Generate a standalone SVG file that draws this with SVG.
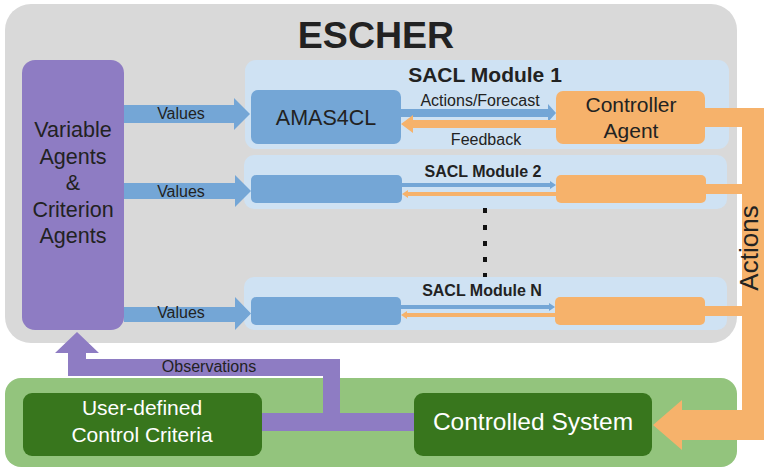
<svg xmlns="http://www.w3.org/2000/svg" width="764" height="469" viewBox="0 0 764 469">
<style>
text{font-family:"Liberation Sans",Arial,sans-serif;fill:#222;text-anchor:middle}
.b{font-weight:bold}
.w{fill:#fff}
.gray{fill:#d9d9d9}
.lb{fill:#cfe2f3}
.blue{fill:#74a6d6}
.or{fill:#f6b26b}
.pu{fill:#8e7cc3}
.lg{fill:#93c47d}
.dg{fill:#38761d}
</style>
<g id="escher">
<rect class="gray" x="5" y="4" width="732" height="339" rx="26"/>
<text class="b" x="376" y="48" font-size="37.5">ESCHER</text>
</g>
<g id="variable-agents">
<rect class="pu" x="22" y="60" width="102" height="270" rx="13"/>
<text x="73" y="137" font-size="21.5">Variable</text>
<text x="73" y="163.5" font-size="21.5">Agents</text>
<text x="73" y="190" font-size="21.5">&amp;</text>
<text x="73" y="216.5" font-size="21.5">Criterion</text>
<text x="73" y="243" font-size="21.5">Agents</text>
</g>
<g id="module1">
<rect class="lb" x="245" y="60" width="484" height="89" rx="11"/>
<text class="b" x="485" y="81.5" font-size="21">SACL Module 1</text>
</g>
<g id="amas4cl-1">
<rect class="blue" x="251" y="90" width="150" height="54" rx="7"/>
<text x="326" y="125" font-size="21.5">AMAS4CL</text>
</g>
<g id="controller-1">
<rect class="or" x="556" y="91" width="149" height="53" rx="7"/>
<text x="631" y="112" font-size="21">Controller</text>
<text x="631" y="138" font-size="21">Agent</text>
</g>
<g id="module2">
<rect class="lb" x="244" y="155" width="483" height="54" rx="10"/>
<text class="b" x="483" y="177" font-size="16">SACL Module 2</text>
</g>
<g id="amas4cl-2"><rect class="blue" x="251" y="175" width="151" height="28" rx="5"/></g>
<g id="controller-2"><rect class="or" x="556" y="175" width="150" height="28" rx="5"/></g>
<g id="dots">
<rect x="483" y="208" width="4" height="5" fill="#111"/>
<rect x="483" y="225" width="4" height="5" fill="#111"/>
<rect x="483" y="241" width="4" height="5" fill="#111"/>
<rect x="483" y="257" width="4" height="5" fill="#111"/>
<rect x="483" y="273" width="4" height="5" fill="#111"/>
</g>
<g id="moduleN">
<rect class="lb" x="244" y="277" width="483" height="53" rx="10"/>
<text class="b" x="482" y="296" font-size="16">SACL Module N</text>
</g>
<g id="amas4cl-N"><rect class="blue" x="251" y="297" width="150" height="28" rx="5"/></g>
<g id="controller-N"><rect class="or" x="555" y="297" width="150" height="28" rx="5"/></g>
<g id="bottom">
<rect class="lg" x="5" y="378" width="732" height="89" rx="16"/>
</g>
<g id="criteria">
<rect class="dg" x="23" y="393" width="239" height="63" rx="9"/>
<text class="w" x="142" y="415" font-size="21">User-defined</text>
<text class="w" x="142" y="441.5" font-size="21">Control Criteria</text>
</g>
<g id="controlled-system">
<rect class="dg" x="414" y="393" width="238" height="63" rx="9"/>
<text class="w" x="533" y="430" font-size="24.5">Controlled System</text>
</g>
<g id="connectors">
<polygon class="blue" points="124,105 234,105 234,98 250,114 234,130 234,123 124,123"/>
<polygon class="blue" points="124,183 235,183 235,175 251,191 235,207 235,199 124,199"/>
<polygon class="blue" points="124,307 235,307 235,297 251,313.5 235,330 235,322 124,322"/>
<text x="181" y="119" font-size="16">Values</text>
<text x="181" y="197" font-size="16">Values</text>
<text x="181" y="318" font-size="16">Values</text>
<polygon class="blue" points="401,109 548,109 548,104 556,113 548,122 548,117 401,117"/>
<polygon class="or" points="556,120 413,120 413,115 401,124 413,133 413,128 556,128"/>
<text x="480" y="106" font-size="16">Actions/Forecast</text>
<text x="486" y="145" font-size="16">Feedback</text>
<polygon class="blue" points="402,183 550,183 550,181 556,185 550,189 550,187 402,187"/>
<polygon class="or" points="556,192 408,192 408,190 402,194 408,198 408,196 556,196"/>
<polygon class="blue" points="401,305 549,305 549,303 555,307 549,311 549,309 401,309"/>
<polygon class="or" points="555,313 407,313 407,311 401,315 407,319 407,317 555,317"/>
<polygon class="or" points="705,108 764,108 764,440 682,440 682,450 653,425 682,400 682,410 742,410 742,316 705,316 705,306 742,306 742,194 706,194 706,184 742,184 742,127 705,127"/>
<text x="0" y="0" font-size="26" transform="translate(758,248) rotate(-90)" fill="#111">Actions</text>
<polygon class="pu" points="77,332 99,353 86,353 86,359 340,359 340,413 414,413 414,431 262,431 262,413 323,413 323,376 68,376 68,353 55,353"/>
<text x="209" y="372" font-size="16">Observations</text>
</g>
</svg>
